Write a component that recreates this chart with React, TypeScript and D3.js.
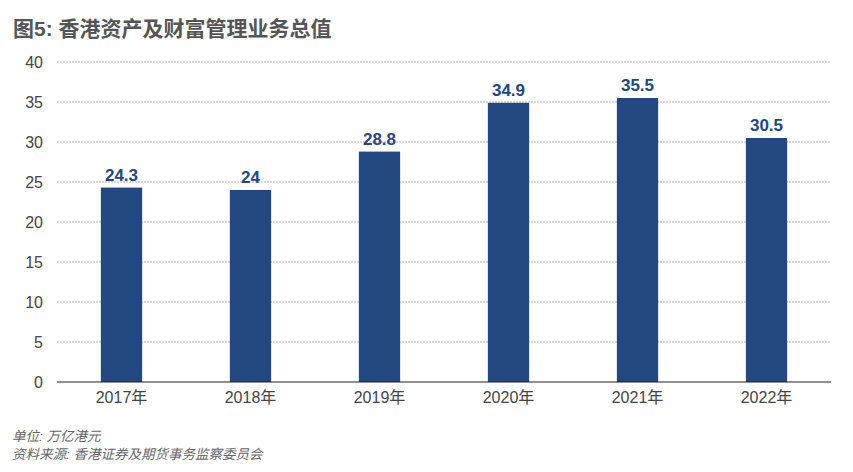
import { useEffect, useRef } from 'react';
import * as d3 from 'd3';

const years = ['2017年', '2018年', '2019年', '2020年', '2021年', '2022年'];
const values = [24.3, 24, 28.8, 34.9, 35.5, 30.5];
const yTicks = [0, 5, 10, 15, 20, 25, 30, 35, 40];
const notes = ['单位: 万亿港元', '资料来源: 香港证券及期货事务监察委员会'];

const FONT = '"Liberation Sans", "Noto Sans CJK SC", sans-serif';

export default function App() {
  const svgRef = useRef<SVGSVGElement>(null);

  useEffect(() => {
    if (!svgRef.current) return;
    const svg = d3.select(svgRef.current);
    svg.selectAll('*').remove();

    const left = 57, right = 831, top = 62, bottom = 382;

    const x = d3.scaleBand().domain(years).range([left, right]).paddingInner(0.68).paddingOuter(0.34);
    const y = d3.scaleLinear().domain([0, 40]).range([bottom, top]);

    // Title
    svg.append('text')
      .attr('x', 13).attr('y', 36)
      .attr('fill', '#555')
      .style('font-family', FONT)
      .style('font-size', '21px')
      .style('font-weight', 'bold')
      .text('图5: 香港资产及财富管理业务总值');

    // Grid lines
    svg.append('g')
      .selectAll('line')
      .data(yTicks.filter(t => t > 0))
      .enter()
      .append('line')
      .attr('x1', left).attr('x2', right)
      .attr('y1', d => y(d)).attr('y2', d => y(d))
      .attr('stroke', '#b5b5b5')
      .attr('stroke-width', 1)
      .attr('stroke-dasharray', '2,1');

    // Y tick labels
    svg.append('g')
      .selectAll('text')
      .data(yTicks)
      .enter()
      .append('text')
      .attr('x', 43)
      .attr('y', d => y(d) + 6)
      .attr('text-anchor', 'end')
      .attr('fill', '#444')
      .style('font-family', FONT)
      .style('font-size', '16px')
      .text(d => d);

    // Bars
    svg.append('g')
      .selectAll('rect')
      .data(values)
      .enter()
      .append('rect')
      .attr('x', (d, i) => x(years[i])!)
      .attr('width', x.bandwidth())
      .attr('y', d => y(d))
      .attr('height', d => y(0) - y(d))
      .attr('fill', '#234781');

    // Value labels
    svg.append('g')
      .selectAll('text')
      .data(values)
      .enter()
      .append('text')
      .attr('x', (d, i) => x(years[i])! + x.bandwidth() / 2)
      .attr('y', d => y(d) - 7)
      .attr('text-anchor', 'middle')
      .attr('fill', '#234781')
      .style('font-family', FONT)
      .style('font-size', '17px')
      .style('font-weight', 'bold')
      .text(d => d);

    // Baseline
    svg.append('line')
      .attr('x1', left).attr('x2', right)
      .attr('y1', y(0)).attr('y2', y(0))
      .attr('stroke', '#222')
      .attr('stroke-width', 1.2);

    // X labels
    svg.append('g')
      .selectAll('text')
      .data(years)
      .enter()
      .append('text')
      .attr('x', d => x(d)! + x.bandwidth() / 2)
      .attr('y', bottom + 21)
      .attr('text-anchor', 'middle')
      .attr('fill', '#444')
      .style('font-family', FONT)
      .style('font-size', '16px')
      .text(d => d);

    // Footer
    notes.forEach((t, i) => {
      svg.append('text')
        .attr('x', 12)
        .attr('y', 441 + i * 18)
        .attr('fill', '#666')
        .style('font-family', FONT)
        .style('font-size', '13.5px')
        .style('font-style', 'italic')
        .text(t);
    });
  }, []);

  return (
    <div style={{ position: 'absolute', left: 0, top: 0 }}>
      <svg ref={svgRef} width={853} height={472} style={{ display: 'block', background: '#fff' }} />
    </div>
  );
}
